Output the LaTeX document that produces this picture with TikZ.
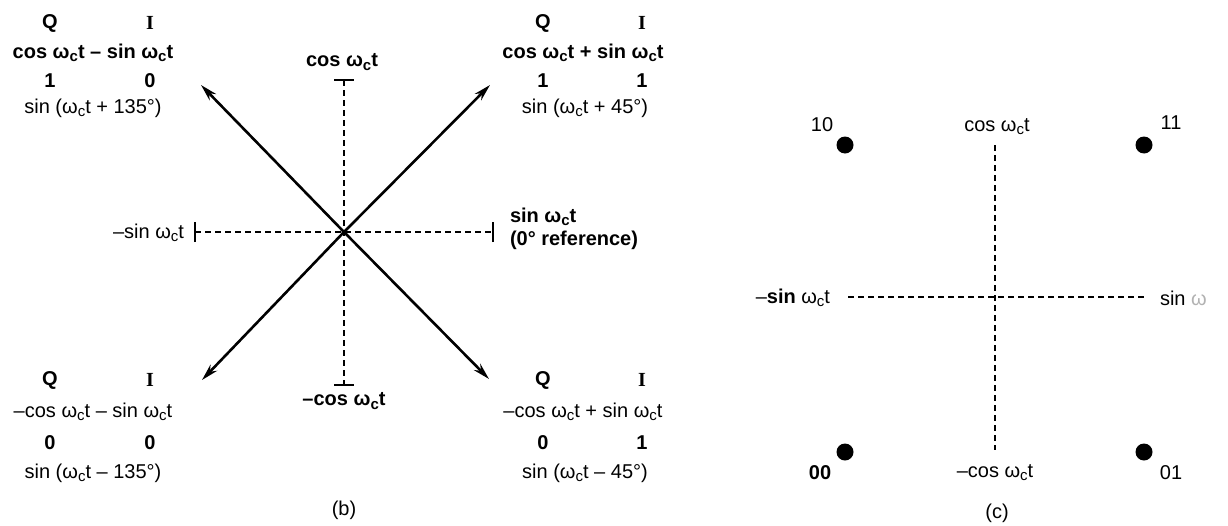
\documentclass[tikz,border=0pt]{standalone}
\usepackage{fontspec}
\setmainfont{Liberation Sans}
\newfontfamily\serifI{Liberation Serif}
\usetikzlibrary{arrows.meta}
\newcommand{\wct}{ω\raisebox{-0.3ex}{\fontsize{15}{15}\selectfont c}t}
\begin{document}
\begin{tikzpicture}[x=1pt,y=-1pt,
  every node/.style={inner sep=0pt, outer sep=0pt},
  txt/.style={font=\fontsize{20}{23}\selectfont},
  btxt/.style={font=\fontsize{20}{23}\selectfont\bfseries},
  axis/.style={dashed, dash pattern=on 6pt off 4pt, line width=1.1pt},
  tick/.style={line width=1.2pt},
  vec/.style={line width=2.6pt, -{Stealth[length=17pt,width=9pt]}, shorten >=0pt},
  dot/.style={circle, fill=black, minimum size=17pt}]
\useasboundingbox (0,0) rectangle (1228,525);

% ---------- panel (b) ----------
\coordinate (O) at (344,232);
\coordinate (vt) at (344,80);
\coordinate (vb) at (344,385);
\coordinate (hl) at (195,232);
\coordinate (hr) at (493,232);
\draw[axis] (vt) -- (vb);
\draw[axis] (hl) -- (hr);
\draw[tick] ([xshift=-10pt]vt) -- ([xshift=10pt]vt);
\draw[tick] ([xshift=-10pt]vb) -- ([xshift=10pt]vb);
\draw[tick] ([yshift=-10pt]hl) -- ([yshift=10pt]hl);
\draw[tick] ([yshift=-10pt]hr) -- ([yshift=10pt]hr);

\coordinate (tUL) at (201,85);
\coordinate (tUR) at (490,85);
\coordinate (tLL) at (202,380);
\coordinate (tLR) at (489,379);
\draw[vec] (O) -- (tUL);
\draw[vec] (O) -- (tUR);
\draw[vec] (O) -- (tLL);
\draw[vec] (O) -- (tLR);

\node[btxt] (cosT) at (342,62) {cos \wct};
\node[btxt] (cosB) at (344,401) {–cos \wct};
\node[txt, anchor=east] (sinL) at (184,233) {–sin \wct};
\node[btxt, anchor=west, align=left] (sinR) at (510,229) {sin \wct\\(0° reference)};

% upper left
\node[btxt] (qUL) at (50,23) {Q};
\node[btxt] (iUL) at (150,23) {\serifI I};
\node[btxt] (eUL) at (93,53) {cos \wct\ – sin \wct};
\node[btxt] (bUL1) at (50,81) {1};
\node[btxt] (bUL2) at (150,81) {0};
\node[txt] (sUL) at (93,108) {sin (\wct\ + 135°)};

% upper right
\node[btxt] (qUR) at (543,23) {Q};
\node[btxt] (iUR) at (642,23) {\serifI I};
\node[btxt] (eUR) at (583,53) {cos \wct\ + sin \wct};
\node[btxt] (bUR1) at (543,81) {1};
\node[btxt] (bUR2) at (642,81) {1};
\node[txt] (sUR) at (585,108) {sin (\wct\ + 45°)};

% lower left
\node[btxt] (qLL) at (50,380) {Q};
\node[btxt] (iLL) at (150,380) {\serifI I};
\node[txt] (eLL) at (93,412) {–cos \wct\ – sin \wct};
\node[btxt] (bLL1) at (50,443) {0};
\node[btxt] (bLL2) at (150,443) {0};
\node[txt] (sLL) at (93,473) {sin (\wct\ – 135°)};

% lower right
\node[btxt] (qLR) at (543,380) {Q};
\node[btxt] (iLR) at (642,380) {\serifI I};
\node[txt] (eLR) at (583,412) {–cos \wct\ + sin \wct};
\node[btxt] (bLR1) at (543,443) {0};
\node[btxt] (bLR2) at (642,443) {1};
\node[txt] (sLR) at (585,473) {sin (\wct\ – 45°)};

\node[txt] (capb) at (344,510) {(b)};

% ---------- panel (c) ----------
\coordinate (ct) at (995,145);
\coordinate (cb) at (995,450);
\coordinate (cl) at (848,297);
\coordinate (cr) at (1145,297);
\draw[axis] (ct) -- (cb);
\draw[axis] (cl) -- (cr);

\node[dot] (d10) at (845,145) {};
\node[dot] (d11) at (1144,145) {};
\node[dot] (d00) at (845,452) {};
\node[dot] (d01) at (1144,452) {};

\node[txt] (l10) at (822,125) {10};
\node[txt] (l11) at (1171,123) {11};
\node[btxt] (l00) at (820,473) {00};
\node[txt] (l01) at (1171,473) {01};

\node[txt] (ccos) at (997,127) {cos \wct};
\node[txt] (cmcos) at (995,473) {–cos \wct};
\node[txt, anchor=east] (cmsin) at (830,298) {–\textbf{sin} \wct};
\node[txt, anchor=west] (csin) at (1160,298) {sin \textcolor{black!30}{ω}};

\node[txt] (capc) at (997,513) {(c)};
\end{tikzpicture}
\end{document}
